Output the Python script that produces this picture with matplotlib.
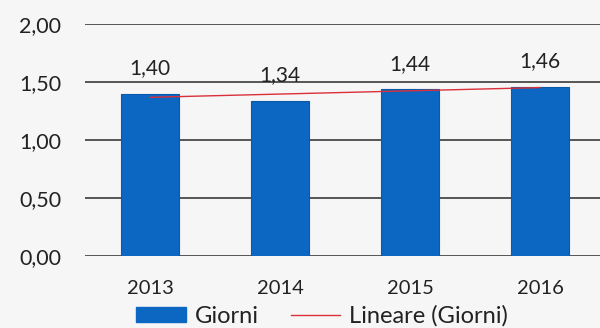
import numpy as np
import matplotlib.pyplot as plt
from matplotlib.patches import Patch
from matplotlib.lines import Line2D

years = ["2013", "2014", "2015", "2016"]
giorni = [1.40, 1.34, 1.44, 1.46]
yticks = [0.0, 0.5, 1.0, 1.5, 2.0]

bar_color = "#0b67c2"
trend_color = "#d9303a"
text_color = "#222222"
bg = "#f6f6f6"

plt.rcParams["font.family"] = ["Lato", "DejaVu Sans"]

fig = plt.figure(figsize=(6.0, 3.28), dpi=100, facecolor=bg)
ax = fig.add_axes([85 / 600, 1 - 256 / 328, 520 / 600, 232 / 328])
ax.set_facecolor(bg)

x = np.arange(len(years))
ax.bar(x, giorni, width=0.44, color=bar_color, edgecolor="#0a5aa8",
       linewidth=0.8, zorder=2)

# linear trendline over the series
slope, intercept = np.polyfit(x, giorni, 1)
ax.plot(x, slope * x + intercept, color=trend_color, lw=1.0, zorder=3)

for xi, v in zip(x, giorni):
    ax.annotate(f"{v:.2f}".replace(".", ","), (xi, v), xytext=(0, 11),
                textcoords="offset points", ha="center", va="bottom",
                fontsize=15, color=text_color, zorder=4)

ax.set_xlim(-0.5, 3.5)
ax.set_ylim(0, 2.0)
ax.set_yticks(yticks)
ax.set_yticklabels([f"{t:.2f}".replace(".", ",") for t in yticks])
ax.set_xticks(x)
ax.set_xticklabels(years)
ax.grid(axis="y", color="#2a2a2a", lw=1.1, zorder=1)
ax.tick_params(length=0, colors=text_color)
ax.tick_params(axis="y", pad=17, labelsize=15.5)
ax.tick_params(axis="x", pad=17, labelsize=14.5)
for s in ax.spines.values():
    s.set_visible(False)

handles = [Patch(facecolor=bar_color, edgecolor=bar_color),
           Line2D([0], [0], color=trend_color, lw=1.0)]
fig.legend(handles, ["Giorni", "Lineare (Giorni)"], loc="center",
           bbox_to_anchor=(322 / 600, 1 - 316 / 328), ncol=2, frameon=False,
           fontsize=17, handlelength=2.1, handleheight=0.64,
           handletextpad=0.38, columnspacing=1.35, labelcolor=text_color,
           borderpad=0.0)

fig.savefig("out.png", dpi=100, facecolor=bg)
